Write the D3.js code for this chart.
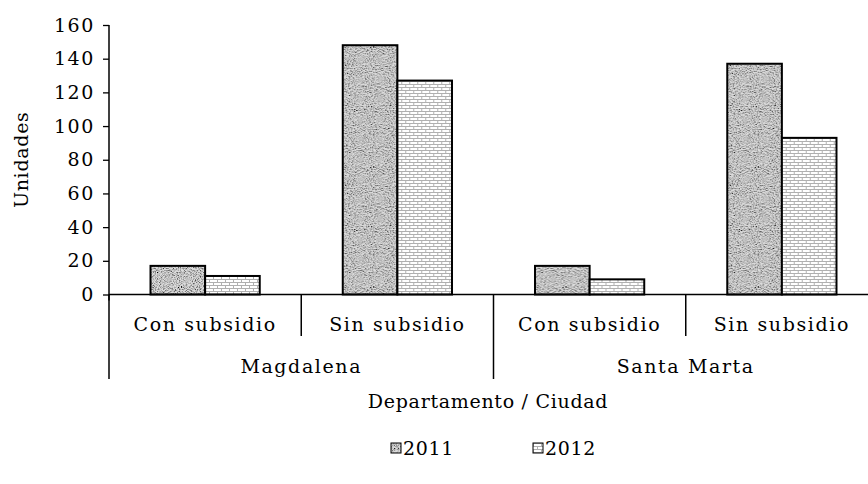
<!DOCTYPE html>
<html lang="es">
<head>
<meta charset="UTF-8"/>
<title>Unidades por Departamento / Ciudad</title>
<script src="https://d3js.org/d3.v7.min.js"></script>
<style>
	body { margin: 0; background: #fff; }
	text { font-family: "DejaVu Serif", serif; font-size: 19px; fill: #000; }
	.cat-label { letter-spacing: 1.6px; }
	.title { letter-spacing: 0.7px; }
</style>
</head>
<body>
<script>
	var groups = ["Magdalena", "Santa Marta"];
	var subcats = ["Con subsidio", "Sin subsidio"];
	var years = ["2011", "2012"];
	var values2011 = [17, 148, 17, 137];
	var values2012 = [11, 127, 9, 93];
	var yTicks = [0, 20, 40, 60, 80, 100, 120, 140, 160];

	var w = 868;
	var h = 484;
	var mLeft = 109, mTop = 25, mBottom = 294.5, mRight = 878;

	// one row per category, group + sub category
	var rows = [];
	groups.forEach(function(g, gi) {
		subcats.forEach(function(s, si) {
			var k = gi * subcats.length + si;
			rows.push({ group: g, sub: s, key: g + "|" + s, vals: [values2011[k], values2012[k]] });
		});
	});

	var svg = d3.select("body").append("svg").attr("width", w).attr("height", h);
	var defs = svg.append("defs");

	// 2011: grey granite texture
	var f = defs.append("filter").attr("id", "noise").attr("x", 0).attr("y", 0).attr("width", 1).attr("height", 1);
	f.append("feTurbulence").attr("type", "fractalNoise").attr("baseFrequency", 0.95).attr("numOctaves", 2).attr("seed", 3).attr("result", "t");
	f.append("feColorMatrix").attr("in", "t").attr("type", "matrix")
		.attr("values", "0 0 0 0 0  0 0 0 0 0  0 0 0 0 0  0 0 0 -2.2 1.36")
		.attr("result", "a");
	f.append("feFlood").attr("flood-color", "#dcdcdc").attr("result", "bg");
	f.append("feComposite").attr("in", "a").attr("in2", "bg").attr("operator", "over");

	var p1 = defs.append("pattern").attr("id", "pat2011").attr("patternUnits", "userSpaceOnUse")
		.attr("width", 120).attr("height", 120);
	p1.append("rect").attr("width", 120).attr("height", 120).attr("filter", "url(#noise)");

	// 2012: small bricks
	var p2 = defs.append("pattern").attr("id", "pat2012").attr("patternUnits", "userSpaceOnUse")
		.attr("width", 8).attr("height", 6);
	p2.append("rect").attr("width", 8).attr("height", 6).attr("fill", "#fff");
	p2.append("path").attr("d", "M0 0.5H8M0 3.5H8M0.5 0.5V3.5M4.5 3.5V6.5")
		.attr("stroke", "#b0b0b0").attr("stroke-width", 1).attr("fill", "none");

	var fills = { "2011": "url(#pat2011)", "2012": "url(#pat2012)" };

	var x0 = d3.scaleBand().domain(rows.map(function(d) { return d.key; })).range([mLeft, mRight]).padding(0);
	var x1 = d3.scaleBand().domain(years).range([0, x0.bandwidth()]).paddingInner(0).paddingOuter(0.76);
	var y = d3.scaleLinear().domain([0, 160]).range([mBottom, mTop]);

	// bars
	var cat = svg.selectAll(".cat").data(rows).enter().append("g")
		.attr("transform", function(d) { return "translate(" + x0(d.key) + ",0)"; });
	cat.selectAll("rect").data(function(d) {
		return years.map(function(yr, i) { return { year: yr, v: d.vals[i] }; });
	}).enter().append("rect")
		.attr("x", function(d) { return x1(d.year); })
		.attr("y", function(d) { return y(d.v); })
		.attr("width", x1.bandwidth())
		.attr("height", function(d) { return y(0) - y(d.v); })
		.attr("fill", function(d) { return fills[d.year]; })
		.attr("stroke", "#000").attr("stroke-width", 2);

	// y axis
	var yAxis = svg.append("g").attr("transform", "translate(" + mLeft + ",0)")
		.call(d3.axisLeft(y).tickValues(yTicks).tickSize(6).tickPadding(8).tickFormat(d3.format("d")));
	yAxis.select(".domain").attr("d", "M0," + mTop + "V" + (mBottom + 6)).attr("stroke", "#000").attr("stroke-width", 1.5);
	yAxis.selectAll(".tick line").attr("stroke", "#000").attr("stroke-width", 1.3);
	yAxis.selectAll(".tick text").attr("class", "cat-label")
		.style("font-family", "DejaVu Serif").style("font-size", "19px");

	// x axis line
	svg.append("line").attr("x1", mLeft).attr("x2", w).attr("y1", y(0)).attr("y2", y(0))
		.attr("stroke", "#000").attr("stroke-width", 1.3);

	// sub category labels and short dividers
	svg.selectAll(".sublab").data(rows).enter().append("text")
		.attr("class", "cat-label")
		.attr("x", function(d) { return x0(d.key) + x0.bandwidth() / 2; })
		.attr("y", 331).attr("text-anchor", "middle")
		.text(function(d) { return d.sub; });
	svg.selectAll(".subdiv").data(rows.filter(function(d, i) { return i % 2 == 1; })).enter().append("line")
		.attr("x1", function(d) { return x0(d.key); }).attr("x2", function(d) { return x0(d.key); })
		.attr("y1", y(0)).attr("y2", 336)
		.attr("stroke", "#000").attr("stroke-width", 1.5);

	// group labels and long dividers
	svg.selectAll(".grplab").data(groups).enter().append("text")
		.attr("class", "cat-label")
		.attr("x", function(g) { return x0(g + "|" + subcats[0]) + x0.bandwidth(); })
		.attr("y", 373).attr("text-anchor", "middle")
		.text(function(g) { return g; });
	svg.selectAll(".grpdiv").data(groups).enter().append("line")
		.attr("x1", function(g) { return x0(g + "|" + subcats[0]); })
		.attr("x2", function(g) { return x0(g + "|" + subcats[0]); })
		.attr("y1", y(0)).attr("y2", 379)
		.attr("stroke", "#000").attr("stroke-width", 1.5);

	// axis titles
	svg.append("text").attr("class", "title")
		.attr("transform", "translate(28," + ((mTop + mBottom) / 2) + ") rotate(-90)")
		.attr("text-anchor", "middle").text("Unidades");
	svg.append("text").attr("class", "title")
		.attr("x", 488).attr("y", 408).attr("text-anchor", "middle").text("Departamento / Ciudad");

	// legend
	var leg = svg.selectAll(".leg").data(years).enter().append("g")
		.attr("transform", function(d, i) { return "translate(" + (391 + i * 142) + ",443)"; });
	leg.append("rect").attr("width", 10).attr("height", 10)
		.attr("fill", function(d) { return fills[d]; }).attr("stroke", "#000").attr("stroke-width", 1);
	leg.append("text").attr("class", "title").attr("x", 12).attr("y", 12).text(function(d) { return d; });
</script>
</body>
</html>
